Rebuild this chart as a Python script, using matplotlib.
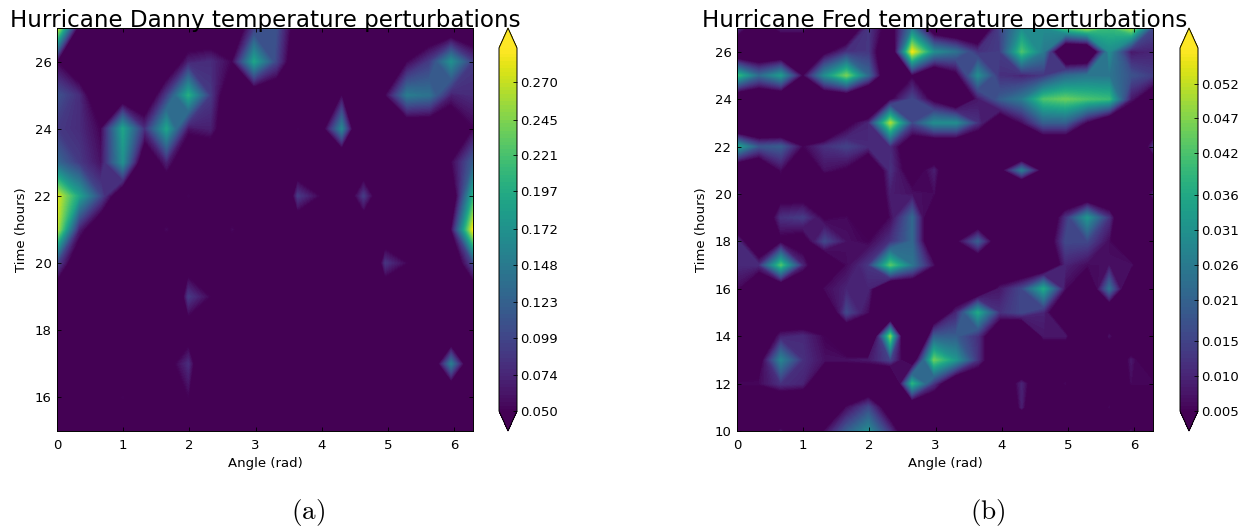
"""Temperature perturbation maps for hurricanes Danny and Fred."""

import matplotlib
matplotlib.use("Agg")
import matplotlib.pyplot as plt
import numpy as np

angles = np.linspace(0, 2 * np.pi, 20)
danny_hours = list(range(15, 28))
fred_hours = list(range(10, 28))

danny_values = [
    [0, 0, 0, 0, 0, 0, 0, 0, 0, 0, 0, 0, 0, 0, 0, 0, 0, 0, 0, 0],
    [0, 0, 0, .052, 0, 0, .05, 0, 0, 0, 0, 0, 0, 0, 0, 0, 0, 0, -.05, 0],
    [0, 0, 0, 0, 0, .03, .08, -.05, 0, 0, 0, 0, 0, 0, 0, 0, 0, -.03, .15, -.03],
    [0, 0, 0, 0, 0, 0, .02, 0, 0, 0, 0, 0, 0, 0, 0, 0, 0, 0, -.05, 0],
    [0, 0, 0, 0, 0, -.10, .09, .05, 0, 0, 0, 0, 0, 0, 0, 0, 0, 0, 0, 0],
    [.10, 0, 0, 0, 0, 0, .02, 0, 0, 0, 0, 0, 0, 0, -.10, .085, .05, 0, 0, .10],
    [.27, .07, 0, 0, 0, .055, 0, 0, .055, 0, 0, 0, 0, 0, 0, 0, 0, 0, .05, .29],
    [.28, .19, .10, 0, 0, 0, .052, 0, 0, 0, -.10, .09, .05, -.01, .09, -.01, 0, 0, 0, .20],
    [.13, .09, .06, .17, 0, .07, 0, 0, 0, 0, 0, 0, 0, -.04, 0, 0, 0, 0, .05, .12],
    [.09, .08, .05, .19, .08, .19, .06, .07, 0, 0, 0, .051, .014, .16, -.08, 0, 0, 0, 0, .05],
    [.11, .08, 0, 0, 0, .09, .20, .09, 0, 0, 0, 0, 0, .05, 0, .05, .15, .14, .07, .08],
    [.05, 0, 0, 0, 0, 0, .07, .08, .05, .19, .10, 0, 0, 0, 0, 0, .05, .09, .17, .09],
    [.28, .03, 0, 0, 0, 0, 0, 0, 0, .09, .11, .02, 0, 0, 0, 0, 0, 0, 0, 0],
]

fred_values = [
    [-.01, -.01, .007, -.01, .006, .020, .030, .012, -.01, -.01, -.01, -.01, -.01, -.03, -.01, -.01, -.01, -.02, .007, -.02],
    [-.01, -.01, -.01, -.01, -.02, .006, .016, -.003, -.01, -.01, -.01, -.01, -.02, .009, -.02, -.01, -.02, .006, -.02, -.01],
    [.006, .006, .012, .010, -.01, -.01, -.01, -.022, .038, .012, -.01, -.01, -.008, .010, -.008, .006, -.03, -.01, .006, .006],
    [-.02, .0, .028, .012, .007, .007, .008, .015, -.005, .045, .032, .012, -.01, -.02, -.01, -.01, -.01, -.01, .008, -.005],
    [-.01, -.01, .009, .011, .005, -.01, -.02, .046, -.04, .020, .020, .012, -.01, -.02, .008, .008, -.02, .007, -.01, -.01],
    [-.01, -.01, -.01, -.01, -.01, .016, .006, -.02, -.02, -.01, .010, .036, .012, .016, .010, -.01, -.01, -.01, -.01, -.01],
    [.006, -.01, -.01, -.01, .006, .010, .010, -.015, -.01, -.01, -.01, -.01, .008, .016, .036, .006, -.01, .024, -.01, -.01],
    [.011, .011, .042, .010, -.01, .006, .013, .043, .025, .006, -.02, -.01, -.01, -.01, -.01, .010, .006, .007, .007, -.01],
    [.012, -.01, .003, .0, .016, .007, .005, .012, .022, -.01, .003, .020, -.005, -.01, -.005, .016, .016, .006, -.01, -.01],
    [-.01, -.01, .012, .014, .004, .006, -.01, .006, .022, -.01, -.01, -.01, -.01, -.01, -.01, .012, .032, .012, -.02, -.01],
    [.009, -.01, .0, .0, -.01, -.01, -.01, .009, .007, .006, -.02, -.01, -.01, -.03, -.01, -.01, -.01, -.01, -.015, .009],
    [-.01, -.01, .006, -.01, .007, .004, -.01, .012, .0, .009, -.01, -.01, .0, .026, .0, -.01, -.01, -.01, -.01, -.01],
    [.035, .018, .020, .005, .012, .015, .011, .011, -.005, -.01, -.01, -.01, -.01, -.03, -.01, -.01, -.01, -.01, -.02, .012],
    [-.02, -.02, -.02, -.02, -.02, .002, .010, .050, .016, .030, .030, .012, -.005, .006, .020, .020, .004, -.01, -.01, -.01],
    [-.01, -.01, -.01, -.01, -.01, -.01, -.02, .004, .016, .002, -.01, .008, .020, .026, .042, .045, .042, .040, .008, -.005],
    [.040, .022, .033, .004, .030, .046, .022, -.01, .004, -.01, .002, .030, .012, .010, .013, .022, .025, .025, .018, .014],
    [-.01, -.01, -.01, -.01, .002, .012, .013, -.01, .056, .030, .024, .012, .014, .042, .026, -.015, -.015, .030, .008, .010],
    [.012, -.005, .009, .009, -.01, -.01, .013, .0, .025, -.005, -.01, -.01, .015, .030, .030, .042, .050, .040, .050, .016],
]

danny_ticks = [0.050, 0.074, 0.099, 0.123, 0.148, 0.172, 0.197, 0.221, 0.245, 0.270]
fred_ticks = [0.005, 0.010, 0.015, 0.021, 0.026, 0.031, 0.036, 0.042, 0.047, 0.052]
danny_range = (0.05, 0.2929)
fred_range = (0.005, 0.0571)

WIDTH, HEIGHT = 1251, 531


def box(left, right, top, bottom):
    """Convert a pixel box to figure coordinates."""
    return [left / WIDTH, 1 - bottom / HEIGHT, (right - left) / WIDTH, (bottom - top) / HEIGHT]


def panel(fig, left, cleft, hours, values, limits, ticks, yticks, title, caption):
    """Draw one contour map with its colorbar and caption."""
    ax = fig.add_axes(box(left, left + 416, 28, 431))
    levels = np.linspace(limits[0], limits[1], 100)
    cs = ax.contourf(angles, hours, np.array(values), levels=levels, cmap="viridis", extend="both")
    ax.set_xlim(0, 2 * np.pi)
    ax.set_ylim(hours[0], hours[-1])
    ax.set_xticks(range(7))
    ax.set_yticks(yticks)
    ax.tick_params(direction="in", top=True, right=True, labelsize=9.5, length=3, width=0.6)
    ax.tick_params(axis="x", pad=6)
    ax.tick_params(axis="y", pad=4)
    ax.set_xlabel("Angle (rad)", fontsize=9.5, labelpad=3)
    ax.set_ylabel("Time (hours)", fontsize=9.5, labelpad=5)
    ax.set_title(title, fontsize=16.6, pad=1)
    for spine in ax.spines.values():
        spine.set_linewidth(0.7)

    cax = fig.add_axes(box(cleft, cleft + 18, 28, 431))
    cbar = fig.colorbar(cs, cax=cax, extend="both", extendfrac=0.055, ticks=ticks, format="%.3f")
    cbar.ax.tick_params(direction="in", length=3, width=0.6, labelsize=9.5, pad=2)
    cbar.outline.set_linewidth(0.7)
    cbar.solids.set_edgecolor("face")

    fig.text((left + 251) / WIDTH, 1 - 513 / HEIGHT, caption, fontsize=19.5, ha="center", va="center",
             math_fontfamily="cm")


fig = plt.figure(figsize=(WIDTH / 100, HEIGHT / 100), dpi=100)
panel(fig, 57, 499, danny_hours, danny_values, danny_range, danny_ticks, range(16, 27, 2),
      "Hurricane Danny temperature perturbations", r"$\mathrm{(a)}$")
panel(fig, 737, 1180, fred_hours, fred_values, fred_range, fred_ticks, range(10, 27, 2),
      "Hurricane Fred temperature perturbations", r"$\mathrm{(b)}$")
fig.savefig("out.png", dpi=100)
